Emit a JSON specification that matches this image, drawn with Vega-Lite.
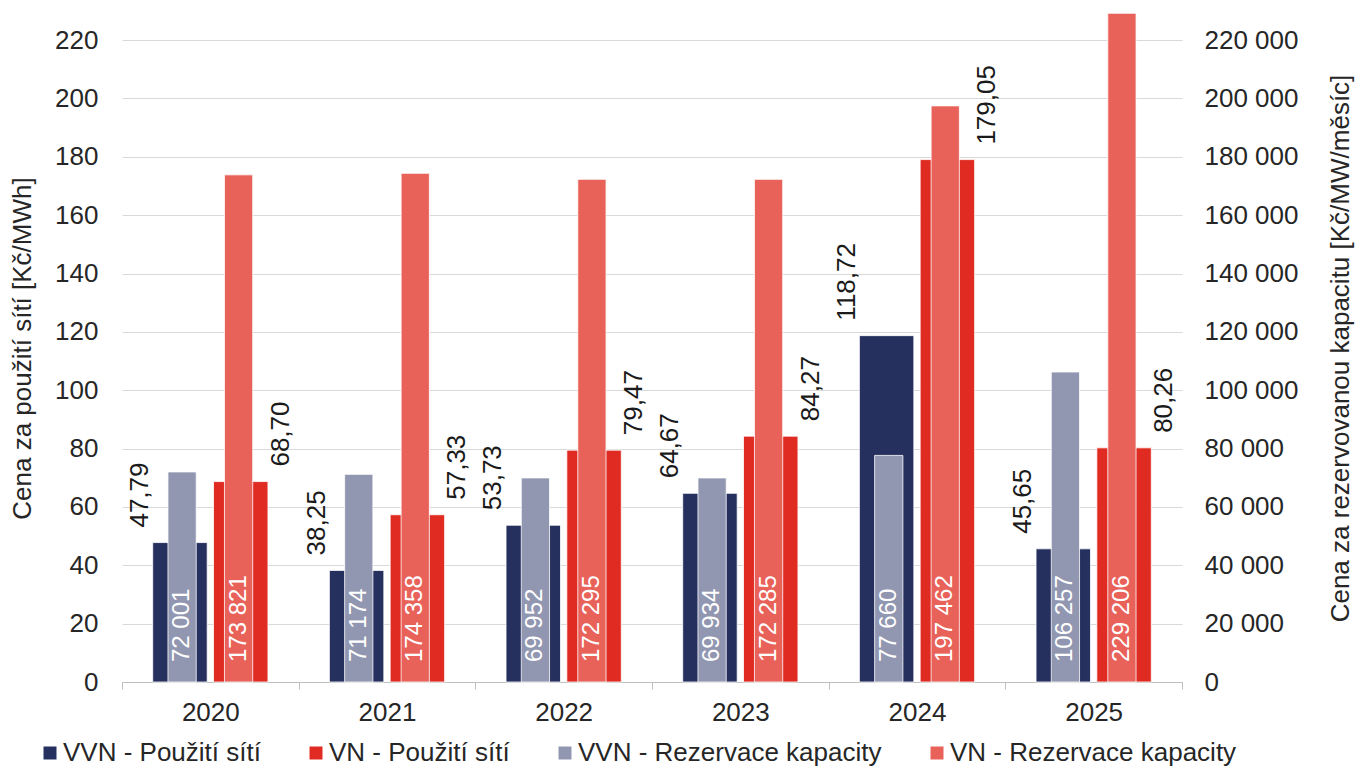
{
  "$schema": "https://vega.github.io/schema/vega-lite/v6.json",
  "width": 1060,
  "height": 669,
  "autosize": {"type": "none"},
  "padding": {"left": 122, "top": 13, "right": 178, "bottom": 85},
  "background": "white",
  "data": {
    "values": [
      {"year": "2020", "group": "VVN", "kind": "use", "series": "VVN - Použití sítí", "value": 47.79},
      {"year": "2021", "group": "VVN", "kind": "use", "series": "VVN - Použití sítí", "value": 38.25},
      {"year": "2022", "group": "VVN", "kind": "use", "series": "VVN - Použití sítí", "value": 53.73},
      {"year": "2023", "group": "VVN", "kind": "use", "series": "VVN - Použití sítí", "value": 64.67},
      {"year": "2024", "group": "VVN", "kind": "use", "series": "VVN - Použití sítí", "value": 118.72},
      {"year": "2025", "group": "VVN", "kind": "use", "series": "VVN - Použití sítí", "value": 45.65},
      {"year": "2020", "group": "VN", "kind": "use", "series": "VN - Použití sítí", "value": 68.70},
      {"year": "2021", "group": "VN", "kind": "use", "series": "VN - Použití sítí", "value": 57.33},
      {"year": "2022", "group": "VN", "kind": "use", "series": "VN - Použití sítí", "value": 79.47},
      {"year": "2023", "group": "VN", "kind": "use", "series": "VN - Použití sítí", "value": 84.27},
      {"year": "2024", "group": "VN", "kind": "use", "series": "VN - Použití sítí", "value": 179.05},
      {"year": "2025", "group": "VN", "kind": "use", "series": "VN - Použití sítí", "value": 80.26},
      {"year": "2020", "group": "VVN", "kind": "res", "series": "VVN - Rezervace kapacity", "value": 72001},
      {"year": "2021", "group": "VVN", "kind": "res", "series": "VVN - Rezervace kapacity", "value": 71174},
      {"year": "2022", "group": "VVN", "kind": "res", "series": "VVN - Rezervace kapacity", "value": 69952},
      {"year": "2023", "group": "VVN", "kind": "res", "series": "VVN - Rezervace kapacity", "value": 69934},
      {"year": "2024", "group": "VVN", "kind": "res", "series": "VVN - Rezervace kapacity", "value": 77660},
      {"year": "2025", "group": "VVN", "kind": "res", "series": "VVN - Rezervace kapacity", "value": 106257},
      {"year": "2020", "group": "VN", "kind": "res", "series": "VN - Rezervace kapacity", "value": 173821},
      {"year": "2021", "group": "VN", "kind": "res", "series": "VN - Rezervace kapacity", "value": 174358},
      {"year": "2022", "group": "VN", "kind": "res", "series": "VN - Rezervace kapacity", "value": 172295},
      {"year": "2023", "group": "VN", "kind": "res", "series": "VN - Rezervace kapacity", "value": 172285},
      {"year": "2024", "group": "VN", "kind": "res", "series": "VN - Rezervace kapacity", "value": 197462},
      {"year": "2025", "group": "VN", "kind": "res", "series": "VN - Rezervace kapacity", "value": 229206}
    ]
  },
  "layer": [
    {
      "transform": [{"filter": "datum.kind === 'use'"}],
      "encoding": {
        "x": {
          "field": "year", "type": "ordinal",
          "scale": {"paddingInner": 0, "paddingOuter": 0},
          "axis": {"title": null, "labelAngle": 0, "tickBand": "extent", "ticks": true, "tickSize": 7, "tickColor": "#BFBFBF", "domain": true, "domainColor": "#BFBFBF", "domainWidth": 1, "labelPadding": 10, "grid": false}
        },
        "xOffset": {"field": "group", "type": "nominal", "scale": {"domain": ["VVN", "VN"], "paddingInner": 0.104, "paddingOuter": 0.505}},
        "y": {
          "field": "value", "type": "quantitative",
          "scale": {"domain": [0, 229.3], "nice": false, "zero": true},
          "axis": {
            "orient": "left", "values": [0, 20, 40, 60, 80, 100, 120, 140, 160, 180, 200, 220],
            "grid": true, "labelPadding": 24,
            "title": "Cena za použití sítí [Kč/MWh]",
            "titleAngle": 270, "titleAlign": "center", "titleBaseline": "middle", "titleX": -100, "titleY": 335
          }
        }
      },
      "layer": [
        {
          "mark": {"type": "bar", "stroke": "white", "strokeWidth": 0.8},
          "encoding": {
            "color": {
              "field": "series", "type": "nominal",
              "scale": {
                "domain": ["VVN - Použití sítí", "VN - Použití sítí", "VVN - Rezervace kapacity", "VN - Rezervace kapacity"],
                "range": ["#25305E", "#E02B23", "#9297B1", "#E8625A"]
              },
              "legend": {"orient": "none", "legendX": -85, "legendY": 727, "direction": "horizontal", "title": null, "symbolType": "square", "symbolSize": 169, "symbolStrokeWidth": 0, "labelFontSize": 26, "labelColor": "#262626", "labelOffset": 0, "columnPadding": 42, "labelLimit": 400, "padding": 0}
            }
          }
        },
        {
          "transform": [{"filter": "datum.group === 'VVN'"}],
          "mark": {"type": "text", "angle": 270, "align": "left", "baseline": "middle", "dx": 15, "dy": -40, "fontSize": 26, "color": "#1A1A1A"},
          "encoding": {"text": {"field": "value", "type": "quantitative", "format": ",.2f"}}
        },
        {
          "transform": [{"filter": "datum.group === 'VN'"}],
          "mark": {"type": "text", "angle": 270, "align": "left", "baseline": "middle", "dx": 15, "dy": 40, "fontSize": 26, "color": "#1A1A1A"},
          "encoding": {"text": {"field": "value", "type": "quantitative", "format": ",.2f"}}
        }
      ]
    },
    {
      "transform": [{"filter": "datum.kind === 'res'"}],
      "encoding": {
        "x": {
          "field": "year", "type": "ordinal",
          "scale": {"paddingInner": 0, "paddingOuter": 0},
          "axis": {"title": null, "labelAngle": 0, "tickBand": "extent", "ticks": true, "tickSize": 7, "tickColor": "#BFBFBF", "domain": true, "domainColor": "#BFBFBF", "domainWidth": 1, "labelPadding": 10, "grid": false}
        },
        "xOffset": {"field": "group", "type": "nominal", "scale": {"domain": ["VVN", "VN"], "paddingInner": 0.5, "paddingOuter": 0.8135}},
        "y": {
          "field": "value", "type": "quantitative",
          "scale": {"domain": [0, 229300], "nice": false, "zero": true},
          "axis": {
            "orient": "right", "values": [0, 20000, 40000, 60000, 80000, 100000, 120000, 140000, 160000, 180000, 200000, 220000],
            "format": ",d", "grid": false, "labelPadding": 22,
            "title": "Cena za rezervovanou kapacitu [Kč/MW/měsíc]",
            "titleAngle": 270, "titleAlign": "center", "titleBaseline": "middle", "titleX": 158, "titleY": 335
          }
        }
      },
      "layer": [
        {
          "mark": {"type": "bar", "stroke": "white", "strokeWidth": 0.8},
          "encoding": {
            "color": {
              "field": "series", "type": "nominal",
              "scale": {
                "domain": ["VVN - Použití sítí", "VN - Použití sítí", "VVN - Rezervace kapacity", "VN - Rezervace kapacity"],
                "range": ["#25305E", "#E02B23", "#9297B1", "#E8625A"]
              },
              "legend": {"orient": "none", "legendX": -85, "legendY": 727, "direction": "horizontal", "title": null, "symbolType": "square", "symbolSize": 169, "symbolStrokeWidth": 0, "labelFontSize": 26, "labelColor": "#262626", "labelOffset": 0, "columnPadding": 42, "labelLimit": 400, "padding": 0}
            }
          }
        },
        {
          "mark": {"type": "text", "angle": 270, "align": "left", "baseline": "middle", "dx": 20, "fontSize": 24, "color": "white"},
          "encoding": {
            "y": {"datum": 0, "type": "quantitative"},
            "text": {"field": "value", "type": "quantitative", "format": ",d"}
          }
        }
      ]
    }
  ],
  "resolve": {"scale": {"y": "independent", "xOffset": "independent"}, "axis": {"y": "independent"}},
  "config": {
    "font": "Liberation Sans",
    "view": {"stroke": null},
    "locale": {"number": {"decimal": ",", "thousands": " ", "grouping": [3], "currency": ["", ""]}},
    "axis": {
      "labelFont": "Liberation Sans", "labelFontSize": 26, "labelColor": "#262626",
      "titleFont": "Liberation Sans", "titleFontSize": 26, "titleColor": "#262626", "titleFontWeight": "normal",
      "gridColor": "#D9D9D9", "gridWidth": 1, "domain": false, "ticks": false
    },
    "legend": {"labelFont": "Liberation Sans"}
  }
}
